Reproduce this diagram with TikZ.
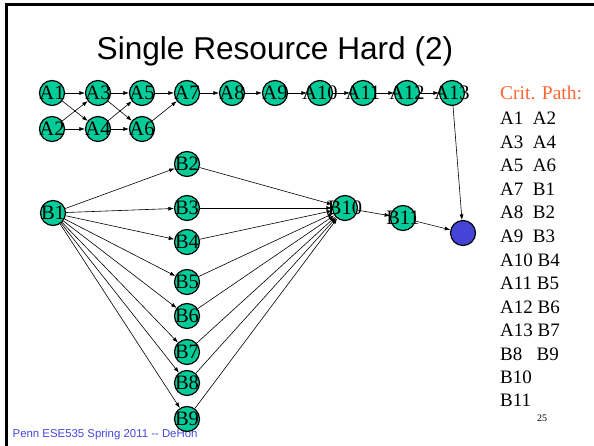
\documentclass[tikz,border=0pt]{standalone}
\usepackage{fontspec}
\setmainfont{Liberation Serif}
\newfontfamily\sansf{Liberation Sans}
\usetikzlibrary{arrows.meta}
\definecolor{nodeg}{RGB}{0,204,153}
\definecolor{nodeb}{RGB}{68,68,214}
\definecolor{footb}{RGB}{70,70,225}
\definecolor{critc}{RGB}{255,102,51}
\begin{document}
\begin{tikzpicture}[x=1pt,y=-1pt,
  vtx/.style={circle, draw, line width=1.2pt, fill=nodeg, minimum size=25pt, inner sep=0pt,
    font=\fontsize{20.5}{20.5}\selectfont},
  sink/.style={circle, draw, line width=1.2pt, fill=nodeb, minimum size=25pt, inner sep=0pt},
  edge/.style={draw, line width=0.6pt, -{Latex[length=5.5pt,width=4pt]}},
  rowtxt/.style={anchor=base west, inner sep=0pt, font=\fontsize{19}{19}\selectfont}]
\useasboundingbox (0,0) rectangle (594,446);
\draw[line width=2.6pt, line join=miter] (594,4.3) -- (6.6,4.3) -- (6.6,446);
% footer (under nodes)
\node[anchor=base west, inner sep=0pt, text=footb, font=\sansf\fontsize{11.4}{12}\selectfont] (foot) at (12.5,437) {Penn ESE535 Spring 2011 {-}{-} DeHon};
% title
\node[anchor=base, inner sep=0pt, font=\sansf\fontsize{31.6}{32}\selectfont] (title) at (275,60) {Single Resource Hard (2)};
% A nodes
\node[vtx] (A1) at (52,93) {\makebox[0pt]{A1}};
\node[vtx] (A2) at (52,129) {\makebox[0pt]{A2}};
\node[vtx] (A3) at (98,93) {\makebox[0pt]{A3}};
\node[vtx] (A4) at (98,129) {\makebox[0pt]{A4}};
\node[vtx] (A5) at (142,93) {\makebox[0pt]{A5}};
\node[vtx] (A6) at (142,129) {\makebox[0pt]{A6}};
\node[vtx] (A7) at (187,93) {\makebox[0pt]{A7}};
\node[vtx] (A8) at (232,93) {\makebox[0pt]{A8}};
\node[vtx] (A9) at (275,93) {\makebox[0pt]{A9}};
\node[vtx] (A10) at (320,93) {\makebox[0pt]{A10}};
\node[vtx] (A11) at (363,93) {\makebox[0pt]{A11}};
\node[vtx] (A12) at (407,93) {\makebox[0pt]{A12}};
\node[vtx] (A13) at (452,93) {\makebox[0pt]{A13}};
% B nodes
\node[vtx] (B1) at (53,213) {\makebox[0pt]{B1}};
\node[vtx] (B2) at (187,164) {\makebox[0pt]{B2}};
\node[vtx] (B3) at (187,208) {\makebox[0pt]{B3}};
\node[vtx] (B4) at (187,242) {\makebox[0pt]{B4}};
\node[vtx] (B5) at (187,282) {\makebox[0pt]{B5}};
\node[vtx] (B6) at (187,316) {\makebox[0pt]{B6}};
\node[vtx] (B7) at (187,352) {\makebox[0pt]{B7}};
\node[vtx] (B8) at (187,383) {\makebox[0pt]{B8}};
\node[vtx] (B9) at (187,419) {\makebox[0pt]{B9}};
\node[vtx] (B10) at (345,208) {\makebox[0pt]{B10}};
\node[vtx] (B11) at (403,218) {\makebox[0pt]{B11}};
\node[sink] (S) at (463,233) {};
% A edges
\foreach \a/\b in {A1/A3,A1/A4,A2/A3,A2/A4,A3/A5,A3/A6,A4/A5,A4/A6,A5/A7,A6/A7,A7/A8,A8/A9,A9/A10,A10/A11,A11/A12,A12/A13,A13/S}
  \path[edge] (\a) -- (\b);
% B edges
\foreach \b in {B2,B3,B4,B5,B6,B7,B8,B9}{
  \path[edge] (B1) -- (\b);
  \path[edge] (\b) -- (B10);
}
\path[edge] (B10) -- (B11);
\path[edge] (B11) -- (S);
% critical path list
\node[anchor=base west, inner sep=0pt, text=critc, font=\fontsize{19.5}{19.5}\selectfont] (crit) at (500,100) {Crit. Path:};
\node[rowtxt] (r1) at (500,125) {A1\ \ A2};
\node[rowtxt] (r2) at (500,148.5) {A3\ \ A4};
\node[rowtxt] (r3) at (500,172) {A5\ \ A6};
\node[rowtxt] (r4) at (500,195.5) {A7\ \ B1};
\node[rowtxt] (r5) at (500,219) {A8\ \ B2};
\node[rowtxt] (r6) at (500,242.5) {A9\ \ B3};
\node[rowtxt] (r7) at (500,266.5) {A10 B4};
\node[rowtxt] (r8) at (500,290) {A11 B5};
\node[rowtxt] (r9) at (500,313.3) {A12 B6};
\node[rowtxt] (r10) at (500,336.7) {A13 B7};
\node[rowtxt] (r11) at (500,360) {B8\ \ \ B9};
\node[rowtxt] (r12) at (500,383.3) {B10};
\node[rowtxt] (r13) at (500,406.7) {B11};
\node[anchor=base west, inner sep=0pt, font=\fontsize{10}{10}\selectfont] (pg) at (537,421.5) {25};
\end{tikzpicture}
\end{document}
